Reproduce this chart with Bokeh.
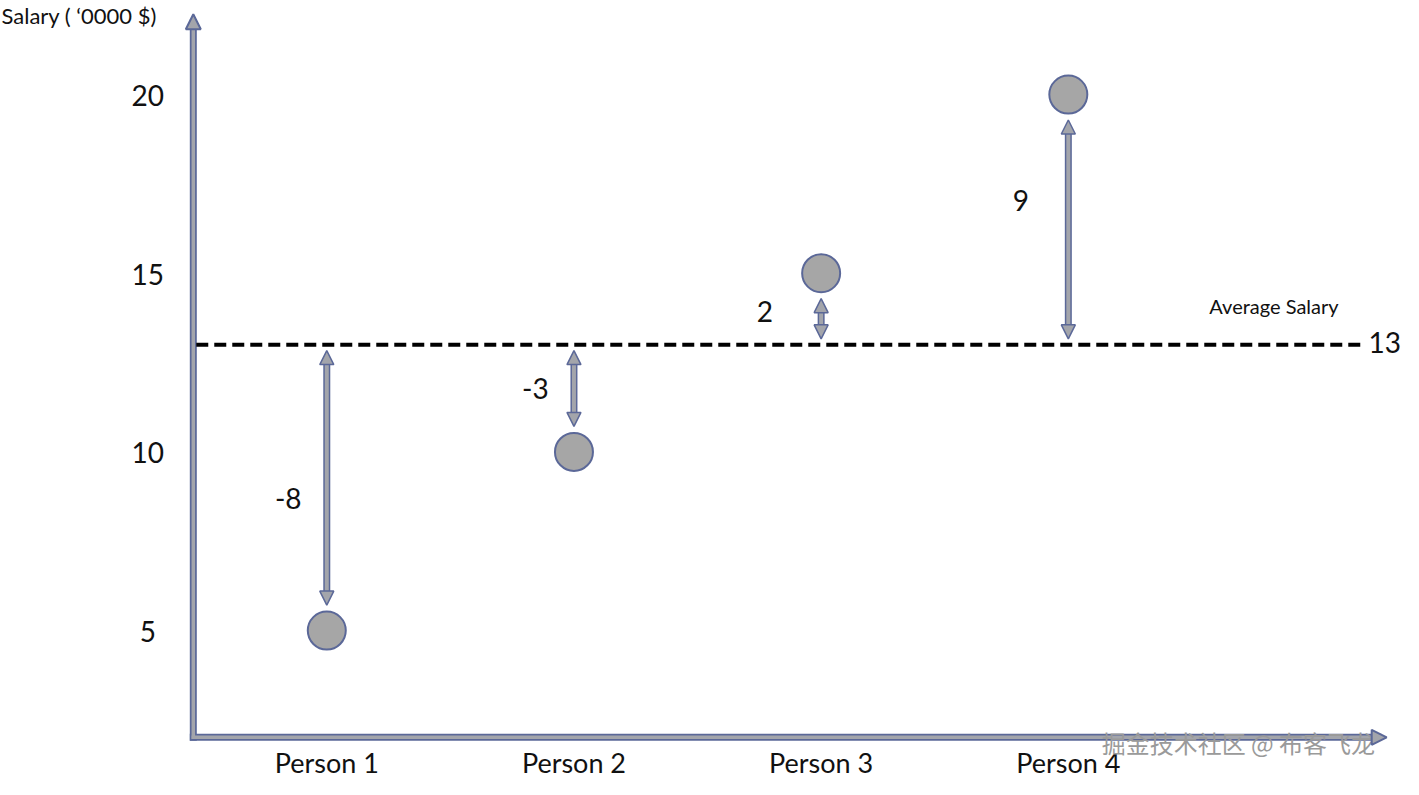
from bokeh.plotting import figure
from bokeh.models import Range1d, ColumnDataSource, Arrow, NormalHead
from bokeh.core.properties import value
from bokeh.embed import file_html
from bokeh.resources import INLINE

# ---- data ----
persons = ["Person 1", "Person 2", "Person 3", "Person 4"]
person_x = [1, 2, 3, 4]
salary = [5, 10, 15, 20]
average = 13
deviation_labels = ["-8", "-3", "2", "9"]
y_ticks = [5, 10, 15, 20]
y_tick_labels = ["5", "10", "15", "20"]
y_title = "Salary ( \u20180000  $)"
avg_label = "Average Salary"
watermark = "掘金技术社区 @ 布客飞龙"

# ---- styles / layout ----
FONT = "Lato"
AX_BLUE = "#5b6898"
AX_GRAY = "#a3a5ab"
REF_W, REF_H = 1419, 795          # reference picture size (layout units)
W, H = 1403, 779                  # figure size in the page
XS, XE = -0.32, -0.32 + REF_W / 250
YE = 5 + 643 / 36.47
YS = YE - REF_H / 36.47
px_x = (XE - XS) / REF_W
px_y = (YE - YS) / REF_H


def X(px):
    return XS + px * px_x


def Y(py):
    return YE - py * px_y


axis_x = X(195)          # y-axis position
axis_y = Y(752)          # x-axis position
axis_top = Y(14)
axis_right = X(1402)

p = figure(width=W, height=H, x_range=Range1d(XS, XE), y_range=Range1d(YS, YE),
           x_axis_location=None, y_axis_location=None,
           toolbar_location=None, output_backend="svg", min_border=0)
p.grid.visible = False
p.outline_line_color = None
p.background_fill_color = "white"

# ---- axes with arrow heads ----
ax_src = ColumnDataSource(dict(x0=[axis_x, axis_x], y0=[axis_y, axis_y],
                               x1=[axis_x, axis_right - 9 * px_x],
                               y1=[axis_top - 9 * px_y, axis_y]))
p.segment("x0", "y0", "x1", "y1", source=ax_src, line_width=7, line_color=AX_BLUE, line_cap="square")
p.segment("x0", "y0", "x1", "y1", source=ax_src, line_width=3.5, line_color=AX_GRAY, line_cap="square")
ax_arrow_src = ColumnDataSource(dict(xs=[axis_x, axis_x], ys=[axis_y, axis_y],
                                     xe=[axis_x, axis_right], ye=[axis_top, axis_y]))
p.add_layout(Arrow(end=NormalHead(size=15, fill_color=AX_GRAY, line_color=AX_BLUE, line_width=2),
                   x_start="xs", y_start="ys", x_end="xe", y_end="ye",
                   source=ax_arrow_src, line_alpha=0))

# ---- average dashed line ----
p.line([axis_x + 3 * px_x, X(1380)], [average, average],
       line_color="black", line_width=4, line_dash="12 6")

# ---- deviation arrows ----
gap_avg = 6 * px_y
gap_pt = 26 * px_y
head = 14
ys_, ye_ = [], []
for s in salary:
    if s < average:
        ys_.append(average - gap_avg)
        ye_.append(s + gap_pt)
    else:
        ys_.append(average + gap_avg)
        ye_.append(s - gap_pt)
sign = [1 if e > s0 else -1 for s0, e in zip(ys_, ye_)]
shaft_src = ColumnDataSource(dict(
    x=person_x,
    y0=[a + sg * 8 * px_y for a, sg in zip(ys_, sign)],
    y1=[b - sg * 8 * px_y for b, sg in zip(ye_, sign)]))
p.segment("x", "y0", "x", "y1", source=shaft_src, line_width=7, line_color=AX_BLUE)
p.segment("x", "y0", "x", "y1", source=shaft_src, line_width=4, line_color=AX_GRAY)
arr_src = ColumnDataSource(dict(x=person_x, ys=ys_, ye=ye_))
p.add_layout(Arrow(start=NormalHead(size=head, fill_color=AX_GRAY, line_color=AX_BLUE, line_width=1.5),
                   end=NormalHead(size=head, fill_color=AX_GRAY, line_color=AX_BLUE, line_width=1.5),
                   x_start="x", y_start="ys", x_end="x", y_end="ye",
                   source=arr_src, line_alpha=0))

# ---- points ----
p.scatter(person_x, salary, size=38, fill_color="#a6a6a6", line_color=AX_BLUE, line_width=2)

# ---- deviation labels ----
frac = [0.58, 0.5, 0.32, 0.37]       # label position along arrow, from top
lab_dx = [-39, -39, -57, -48]        # label offset left of arrow, px
lab_y = []
for a, b, f in zip(ys_, ye_, frac):
    top, bot = max(a, b), min(a, b)
    lab_y.append(top - f * (top - bot))
p.text([x + d * px_x for x, d in zip(person_x, lab_dx)], lab_y, text=deviation_labels,
       text_font=value(FONT), text_font_size="28px", text_color="#111111",
       text_align="center", text_baseline="middle")

# ---- tick labels ----
p.text([X(149)] * len(y_ticks), y_ticks, text=y_tick_labels, y_offset=1,
       text_font=value(FONT), text_font_size="28px", text_color="#111111",
       text_align="center", text_baseline="middle")

# ---- category labels ----
p.text(person_x, [Y(778)] * len(persons), text=persons,
       text_font=value(FONT), text_font_size="27px", text_color="#111111",
       text_align="center", text_baseline="middle")

# ---- titles / annotations ----
p.text([X(1)], [Y(2)], text=[y_title],
       text_font=value(FONT), text_font_size="22px", text_color="#111111",
       text_align="left", text_baseline="top")
p.text([X(1288)], [average], text=[avg_label], y_offset=-39,
       text_font=value(FONT), text_font_size="20px", text_color="#111111",
       text_align="center", text_baseline="middle")
p.text([X(1400)], [average], text=[str(average)], y_offset=-2,
       text_font=value(FONT), text_font_size="28px", text_color="#111111",
       text_align="center", text_baseline="middle")
p.text([X(1252)], [Y(757)], text=[watermark],
       text_font=value("Noto Sans CJK SC"), text_font_size="24px", text_color="#9a9a9a",
       text_align="center", text_baseline="middle")

open("out.html", "w").write(file_html(p, INLINE))
